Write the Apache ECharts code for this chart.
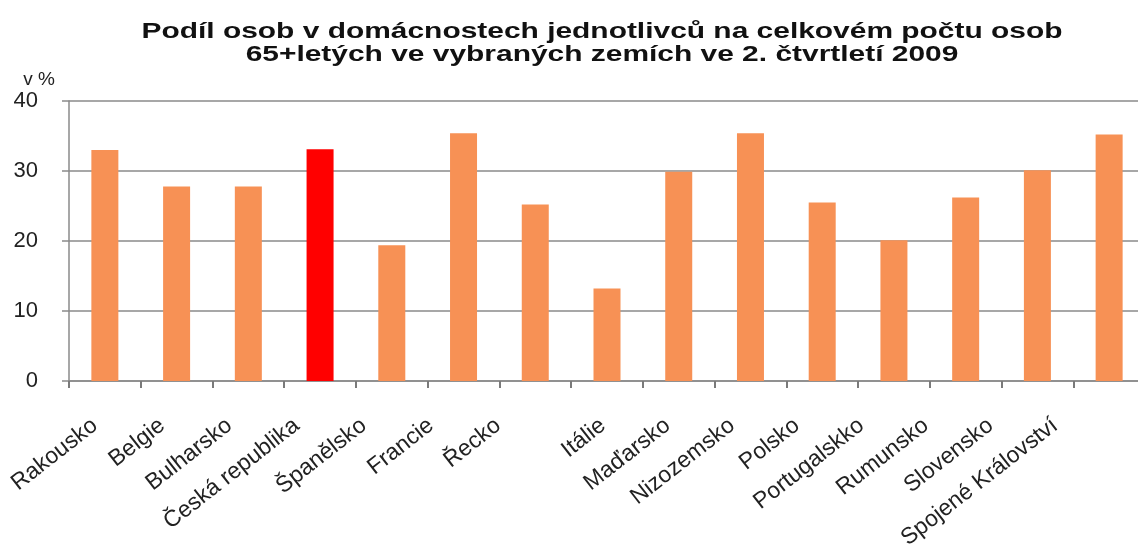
<!DOCTYPE html>
<html>
<head>
<meta charset="utf-8">
<script src="https://cdn.jsdelivr.net/npm/echarts@6/dist/echarts.min.js"></script>
<style>html,body{margin:0;padding:0;background:#fff}#c{width:1138px;height:547px}</style>
</head>
<body>
<div id="c"></div>
<script>
const categories = ['Rakousko','Belgie','Bulharsko','Česká republika','Španělsko','Francie','Řecko','Itálie','Maďarsko','Nizozemsko','Polsko','Portugalskko','Rumunsko','Slovensko','Spojené Království'];
const values = [33.0, 27.8, 27.8, 33.1, 19.4, 35.4, 25.2, 13.2, 29.9, 35.4, 25.5, 20.1, 26.2, 30.1, 35.2];
const highlightIndex = 3;
const yTicks = [0, 10, 20, 30, 40];
const titleText = 'Podíl osob v domácnostech jednotlivců na celkovém počtu osob\n65+letých ve vybraných zemích ve 2. čtvrtletí 2009';
const yUnit = 'v %';

// the reference's category labels sit in two runs that drift left of the bars
const splitAt = 7;
const labelsA = categories.slice(0, splitAt);
const labelsB = categories.slice(splitAt);

const labelStyle = {rotate: 38, margin: 42, interval: 0, fontFamily: 'Liberation Sans', fontSize: 23, color: '#222'};
const hiddenY = {type: 'value', min: 0, max: 40, show: false};
const labelAxis = (gridIndex, data) => ({
  type: 'category', gridIndex: gridIndex, data: data, boundaryGap: true,
  axisLine: {show: false}, axisTick: {show: false}, splitLine: {show: false},
  axisLabel: labelStyle
});

const chart = echarts.init(document.getElementById('c'));
chart.setOption({
  animation: false,
  backgroundColor: '#ffffff',
  graphic: [{
    type: 'text',
    x: 602,
    y: 20,
    scaleX: 1.36,
    style: {
      text: titleText,
      align: 'center',
      verticalAlign: 'top',
      fontFamily: 'Liberation Sans',
      fontWeight: 'bold',
      fontSize: 22,
      lineHeight: 23,
      fill: '#111'
    }
  }],
  grid: [
    {left: 69, top: 101, width: 1076, bottom: 166, containLabel: false, outerBoundsMode: 'none'},
    {left: 61.4, top: 101, width: 470.4, bottom: 166, containLabel: false, outerBoundsMode: 'none'},
    {left: 570.7, top: 101, width: 516.8, bottom: 166, containLabel: false, outerBoundsMode: 'none'}
  ],
  xAxis: [{
    type: 'category',
    gridIndex: 0,
    data: categories,
    boundaryGap: true,
    axisLine: {lineStyle: {color: '#8a8a8a', width: 1.5}},
    axisTick: {show: true, interval: 0, length: 7, lineStyle: {color: '#7a7a7a', width: 2}},
    axisLabel: {show: false, interval: 0}
  }, labelAxis(1, labelsA), labelAxis(2, labelsB)],
  yAxis: [{
    type: 'value',
    gridIndex: 0,
    min: yTicks[0],
    max: yTicks[yTicks.length - 1],
    interval: 10,
    name: yUnit,
    nameLocation: 'end',
    nameGap: 12,
    nameTextStyle: {fontFamily: 'Liberation Sans', fontSize: 19, color: '#222', align: 'right', padding: [0, 14, 0, 0]},
    axisLine: {show: true, lineStyle: {color: '#8a8a8a', width: 1.5}},
    axisTick: {show: true, length: 7, lineStyle: {color: '#8a8a8a', width: 1.5}},
    axisLabel: {margin: 31, fontFamily: 'Liberation Sans', fontSize: 22, color: '#222'},
    splitLine: {show: true, lineStyle: {color: '#8a8a8a', width: 1.5}}
  }, Object.assign({gridIndex: 1}, hiddenY), Object.assign({gridIndex: 2}, hiddenY)],
  series: [{
    type: 'bar',
    xAxisIndex: 0,
    yAxisIndex: 0,
    barWidth: 27,
    data: values.map((v, i) => ({value: v, itemStyle: {color: i === highlightIndex ? '#ff0000' : '#f79155'}}))
  }]
});
</script>
</body>
</html>
